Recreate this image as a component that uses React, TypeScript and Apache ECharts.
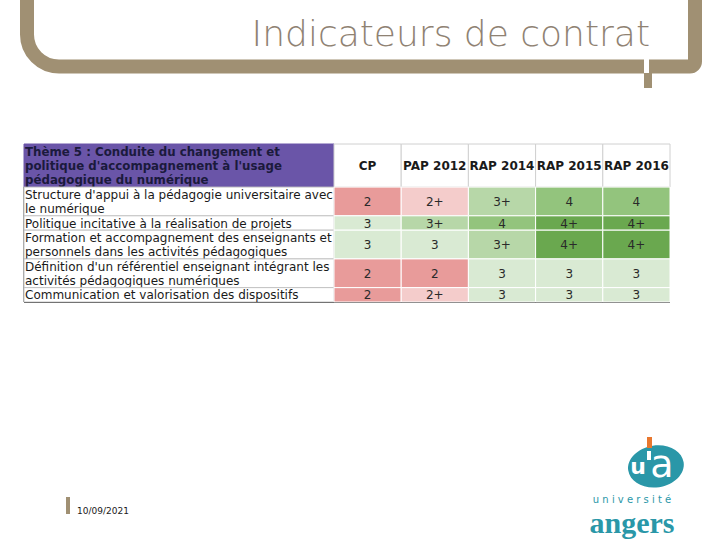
import React, { useEffect, useRef } from "react";
import * as echarts from "echarts";

const headerTitle =
  "Thème 5 : Conduite du changement et\npolitique d'accompagnement à l'usage\npédagogique du numérique";
const rowLabels = [
  "Structure d'appui à la pédagogie universitaire avec\nle numérique",
  "Politique incitative à la réalisation de projets",
  "Formation et accompagnement des enseignants et\npersonnels dans les activités pédagogiques",
  "Définition d'un référentiel enseignant intégrant les\nactivités pédagogiques numériques",
  "Communication et valorisation des dispositifs",
];
const rowLines = [2, 1, 2, 2, 1];
const columns = ["CP", "PAP 2012", "RAP 2014", "RAP 2015", "RAP 2016"];
const cpValues = ["2", "3", "3", "2", "2"];
const pap2012Values = ["2+", "3+", "3", "2", "2+"];
const rap2014Values = ["3+", "4", "3+", "3", "3"];
const rap2015Values = ["4", "4+", "4+", "3", "3"];
const rap2016Values = ["4", "4+", "4+", "3", "3"];
const levelColors: Record<string, string> = {
  "2": "#e89b9a",
  "2+": "#f4cccb",
  "3": "#d9ead3",
  "3+": "#b7d7a8",
  "4": "#93c47d",
  "4+": "#6aa84f",
};

const TAUPE = "#a09073";
const PURPLE = "#6a55a8";
const BORDER = "#c4c4c4";

export default function App() {
  const ref = useRef<HTMLDivElement>(null);

  useEffect(() => {
    if (!ref.current) return;
    const chart = echarts.init(ref.current, undefined, { renderer: "svg" });

    const starts: number[] = [];
    let acc = 0;
    rowLines.forEach((l) => {
      starts.push(acc);
      acc += l;
    });
    const totalLines = acc;

    const labelData: number[][] = [[0, -3, 3]];
    const labelTexts: string[] = [headerTitle];
    rowLabels.forEach((t, i) => {
      labelData.push([0, starts[i], rowLines[i]]);
      labelTexts.push(t);
    });

    const allValues = [cpValues, pap2012Values, rap2014Values, rap2015Values, rap2016Values];
    const cellData: number[][] = [];
    const cellTexts: string[] = [];
    const cellHeader: boolean[] = [];
    columns.forEach((c, ci) => {
      cellData.push([ci, -3, 3]);
      cellTexts.push(c);
      cellHeader.push(true);
    });
    allValues.forEach((vals, ci) => {
      vals.forEach((v, ri) => {
        cellData.push([ci, starts[ri], rowLines[ri]]);
        cellTexts.push(v);
        cellHeader.push(false);
      });
    });

    const option: any = {
      animation: false,
      backgroundColor: "#ffffff",
      grid: [
        { left: 24, top: 144, width: 310, height: 158 },
        { left: 334, top: 144, width: 336, height: 158 },
      ],
      xAxis: [
        { type: "value", gridIndex: 0, min: 0, max: 1, show: false },
        { type: "category", gridIndex: 1, data: columns, show: false },
      ],
      yAxis: [
        { type: "value", gridIndex: 0, min: -3, max: totalLines, inverse: true, show: false },
        { type: "value", gridIndex: 1, min: -3, max: totalLines, inverse: true, show: false },
      ],
      series: [
        {
          type: "custom",
          xAxisIndex: 0,
          yAxisIndex: 0,
          clip: false,
          encode: { x: 0, y: 1 },
          data: labelData,
          renderItem: (params: any, api: any) => {
            const start = api.value(1);
            const lines = api.value(2);
            const p0 = api.coord([0, start]);
            const p1 = api.coord([1, start + lines]);
            const unit = api.size([0, 1])[1];
            const isHeader = params.dataIndex === 0;
            return {
              type: "group",
              children: [
                {
                  type: "rect",
                  shape: { x: p0[0], y: p0[1], width: p1[0] - p0[0], height: p1[1] - p0[1] },
                  style: { fill: isHeader ? PURPLE : "#ffffff", stroke: isHeader ? PURPLE : BORDER, lineWidth: 1 },
                },
                {
                  type: "text",
                  style: {
                    text: labelTexts[params.dataIndex],
                    x: p0[0] + 1,
                    y: (p0[1] + p1[1]) / 2 + 0.5,
                    align: "left",
                    verticalAlign: "middle",
                    lineHeight: unit,
                    fontFamily: "DejaVu Sans",
                    fontSize: isHeader ? 11.8 : 12,
                    fontWeight: isHeader ? "bold" : "normal",
                    fill: isHeader ? "#1b1a3c" : "#1a1a1a",
                  },
                },
              ],
            };
          },
        },
        {
          type: "custom",
          xAxisIndex: 1,
          yAxisIndex: 1,
          clip: false,
          encode: { x: 0, y: 1 },
          data: cellData,
          renderItem: (params: any, api: any) => {
            const ci = api.value(0);
            const start = api.value(1);
            const lines = api.value(2);
            const p0 = api.coord([ci, start]);
            const p1 = api.coord([ci, start + lines]);
            const w = api.size([1, 0])[0];
            const isHeader = cellHeader[params.dataIndex];
            const txt = cellTexts[params.dataIndex];
            return {
              type: "group",
              children: [
                {
                  type: "rect",
                  shape: { x: p0[0] - w / 2, y: p0[1], width: w, height: p1[1] - p0[1] },
                  style: {
                    fill: isHeader ? "#ffffff" : levelColors[txt],
                    stroke: isHeader ? "#d0d0d0" : "#ffffff",
                    lineWidth: 1,
                  },
                },
                {
                  type: "text",
                  style: {
                    text: txt,
                    x: p0[0],
                    y: (p0[1] + p1[1]) / 2 + 0.5,
                    align: "center",
                    verticalAlign: "middle",
                    fontFamily: "DejaVu Sans",
                    fontSize: 12,
                    fontWeight: isHeader ? "bold" : "normal",
                    fill: isHeader ? "#1a1a1a" : "#2a2a2a",
                  },
                },
              ],
            };
          },
        },
      ],
      graphic: [
        // frame
        {
          type: "rect",
          shape: { x: 27, y: -60, width: 668, height: 126.5, r: [0, 0, 5, 32] },
          style: { fill: "none", stroke: TAUPE, lineWidth: 14 },
        },
        { type: "rect", shape: { x: 644, y: 59, width: 5, height: 14 }, style: { fill: "#ffffff" } },
        { type: "rect", shape: { x: 644, y: 73, width: 8, height: 15 }, style: { fill: TAUPE } },
        {
          type: "text",
          style: {
            text: "Indicateurs de contrat",
            x: 650,
            y: 33,
            align: "right",
            verticalAlign: "middle",
            fontFamily: "DejaVu Sans",
            fontWeight: 300,
            fontSize: 36,
            fill: "#8f8273",
          },
        },
        // table dark edges
        { type: "line", shape: { x1: 24, y1: 187, x2: 24, y2: 302 }, style: { stroke: "#222222", lineWidth: 1 } },
        { type: "line", shape: { x1: 24, y1: 302.5, x2: 670, y2: 302.5 }, style: { stroke: "#222222", lineWidth: 1.2 } },
        // date
        { type: "rect", shape: { x: 66, y: 497, width: 4, height: 17 }, style: { fill: TAUPE } },
        {
          type: "text",
          style: { text: "10/09/2021", x: 77, y: 511, align: "left", verticalAlign: "middle", fontFamily: "DejaVu Sans", fontSize: 9, fill: "#1a1a1a" },
        },
        // logo
        { type: "ellipse", shape: { cx: 656, cy: 466, rx: 28, ry: 21 }, rotation: 0.15, originX: 656, originY: 466, style: { fill: "#2a97a8" } },
        { type: "rect", shape: { x: 647, y: 437, width: 5, height: 11 }, style: { fill: "#e8772e" } },
        { type: "rect", shape: { x: 647, y: 451, width: 4, height: 9 }, style: { fill: "#ffffff" } },
        {
          type: "text",
          style: { text: "u", x: 638, y: 466, align: "center", verticalAlign: "middle", fontFamily: "DejaVu Sans", fontWeight: "bold", fontSize: 22, fill: "#ffffff" },
        },
        {
          type: "text",
          style: { text: "a", x: 662, y: 464, align: "center", verticalAlign: "middle", fontFamily: "DejaVu Sans", fontSize: 38, fill: "#ffffff" },
        },
        {
          type: "text",
          style: { text: "u n i v e r s i t é", x: 632, y: 499, align: "center", verticalAlign: "middle", fontFamily: "DejaVu Sans", fontSize: 10, fill: "#2a97a8" },
        },
        {
          type: "text",
          style: { text: "angers", x: 632, y: 522, align: "center", verticalAlign: "middle", fontFamily: "Liberation Serif", fontWeight: "bold", fontSize: 30, fill: "#2a97a8" },
        },
      ],
    };

    chart.setOption(option);
    return () => chart.dispose();
  }, []);

  return (
    <div
      ref={ref}
      style={{ position: "absolute", left: 0, top: 0, width: 720, height: 540, background: "#fff" }}
    />
  );
}
